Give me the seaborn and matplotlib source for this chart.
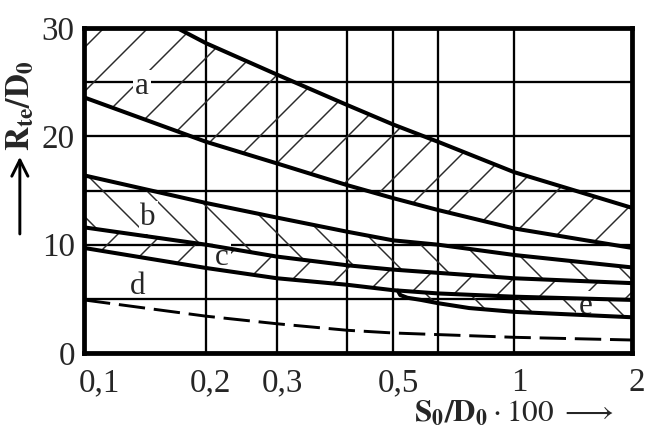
import numpy as np
import matplotlib
matplotlib.use("Agg")
import matplotlib.pyplot as plt
import matplotlib.transforms as mtransforms
import seaborn as sns

# curve values (x = S0/D0*100, y = Rte/D0)
xs = [0.1, 0.2, 0.3, 0.4, 0.5, 0.6, 1, 2]
a_upper = [34.5, 28.6, 25.7, 22.9, 21.1, 19.5, 16.7, 13.4]
a_lower = [23.6, 19.5, 17.5, 15.5, 14.3, 13.2, 11.5, 9.7]
b_upper = [16.4, 13.85, 12.5, 11.2, 10.4, 10.0, 9.05, 7.9]
c_upper = [11.6, 10.0, 8.9, 8.1, 7.7, 7.4, 6.9, 6.45]
c_lower = [9.7, 7.85, 6.9, 6.3, 5.8, 5.5, 5.2, 4.9]
d_line = [4.9, 3.4, 2.7, 2.1, 1.85, 1.7, 1.45, 1.2]
xe = [0.51, 0.515, 0.53, 0.56, 0.6, 0.74, 1, 2]
e_lower = [5.75, 5.35, 5.1, 4.9, 4.6, 4.15, 3.8, 3.3]

grid_x = [0.1, 0.2, 0.3, 0.4, 0.5, 0.6, 1, 2]
xtick_labels = ["0,1", "0,2", "0,3", "", "0,5", "", "1", "2"]
yticks = [0, 5, 10, 15, 20, 25, 30]
ytick_labels = ["0", "", "10", "", "20", "", "30"]

# the printed grid is a hand-drawn, slightly uneven log scale
knot_pos = np.array([0, 122, 193, 263, 309, 354, 430, 548]) / 548.0
knot_log = np.log10(grid_x)

def fwd(x):
    x = np.clip(np.asarray(x, dtype=float), 1e-6, None)
    return np.interp(np.log10(x), knot_log, knot_pos)

def inv(p):
    return 10 ** np.interp(p, knot_pos, knot_log)

sns.set_style("white")
plt.rcParams["font.family"] = ["Liberation Serif", "DejaVu Serif"]
plt.rcParams["mathtext.fontset"] = "stix"
plt.rcParams["hatch.linewidth"] = 0.8

dpi = 132
fig = plt.figure(figsize=(656 / dpi, 437 / dpi), dpi=dpi)
ax = fig.add_axes([0.128, 0.1922, 0.8354, 0.7437])
ax.set_xscale("function", functions=(fwd, inv))
ax.set_xlim(0.1, 2)
ax.set_ylim(0, 30)

hatch_col = "#2a2a2a"
ax.fill_between(xs, a_lower, a_upper, facecolor="none", edgecolor=hatch_col,
                hatch="/", lw=0, zorder=1)
ax.fill_between(xs, c_upper, b_upper, facecolor="none", edgecolor=hatch_col,
                hatch="\\", lw=0, zorder=1)
ax.fill_between(xs, c_lower, c_upper, facecolor="none", edgecolor=hatch_col,
                hatch="/", lw=0, zorder=1)
c_at_e = np.interp(fwd(xe), fwd(xs), c_lower)
ax.fill_between(xe, e_lower, c_at_e, facecolor="none", edgecolor=hatch_col,
                hatch="\\", lw=0, zorder=1)

for ys in [a_upper, a_lower, b_upper, c_upper, c_lower]:
    sns.lineplot(x=xs, y=ys, color="black", lw=2.2, ax=ax, zorder=4)
sns.lineplot(x=xe, y=e_lower, color="black", lw=2.2, ax=ax, zorder=4)
sns.lineplot(x=xs, y=d_line, color="black", lw=1.6, ax=ax, zorder=4,
             linestyle=(0, (9, 3)))

ax.set_xticks(grid_x)
ax.set_xticklabels(xtick_labels, fontsize=18)
ax.set_yticks(yticks)
ax.set_yticklabels(ytick_labels, fontsize=18)
ax.tick_params(axis="x", length=0, pad=8)
ax.tick_params(axis="y", length=0, pad=5)
# printed labels sit a little right of their grid lines
for lab in ax.get_xticklabels():
    dx = 15 if lab.get_text() == "0,1" else 5
    lab.set_transform(lab.get_transform() +
                      mtransforms.ScaledTranslation(dx / dpi, 0, fig.dpi_scale_trans))
ax.grid(True, color="black", lw=1.25, zorder=2)
for s in ax.spines.values():
    s.set_color("black")
    s.set_linewidth(2.6)
    s.set_zorder(5)

box = dict(facecolor="white", edgecolor="none", pad=1)
ax.text(0.139, 24.6, "a", fontsize=17, ha="center", va="center", bbox=box, zorder=3)
ax.text(0.144, 12.5, "b", fontsize=17, ha="center", va="center", bbox=box, zorder=3)
ax.text(0.219, 8.8, "c", fontsize=17, ha="center", va="center", bbox=box, zorder=3)
ax.text(0.136, 6.1, "d", fontsize=17, ha="center", va="center", zorder=3)
ax.text(1.52, 4.25, "e", fontsize=17, ha="center", va="center", bbox=box, zorder=3)

ax.set_xlabel(r"$\mathbf{S_0/D_0}\cdot 100\ \longrightarrow$", fontsize=17)
ax.xaxis.set_label_coords(0.785, -0.14)
ax.set_ylabel(r"$\mathbf{R_{te}/D_0}$", fontsize=18)
ax.yaxis.set_label_coords(-0.088, 0.76)
ax.annotate("", xy=(-0.117, 0.615), xytext=(-0.117, 0.355),
            xycoords="axes fraction", textcoords="axes fraction",
            arrowprops=dict(arrowstyle="->", lw=1.6, color="black",
                            mutation_scale=22))

fig.savefig("out.png", dpi=dpi)
